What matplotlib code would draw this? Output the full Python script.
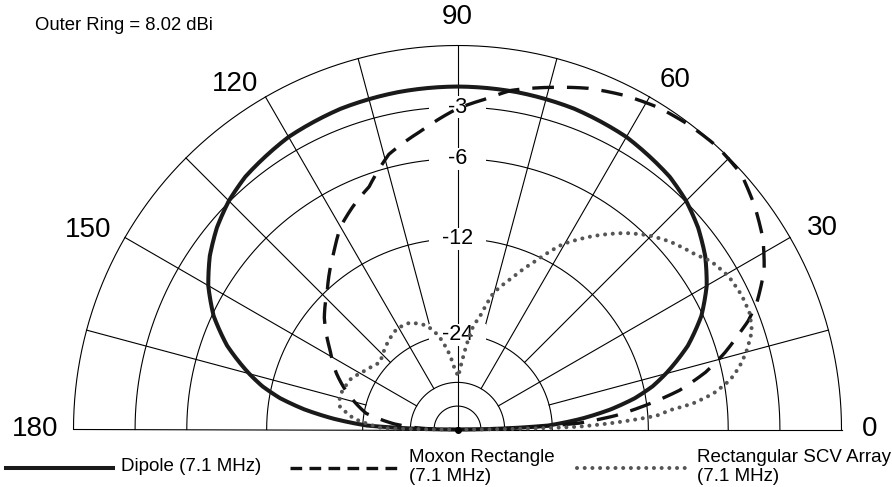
import numpy as np
import matplotlib.pyplot as plt
from matplotlib import transforms
from matplotlib.lines import Line2D
from matplotlib.patches import Rectangle

plt.rcParams['font.family'] = ['Liberation Sans', 'DejaVu Sans']

OUTER_DBI = 8.02

# elevation angle (deg) and gain relative to the outer ring (dB)
dipole_ang = [0, 2.5, 5, 7.5, 10, 12.5, 15, 20, 25, 30, 35, 40, 45, 50, 60, 70, 80, 90,
              100, 110, 120, 130, 135, 140, 145, 150, 155, 160, 165, 167.5, 170, 172.5,
              175, 177.5, 180]
dipole_db = [-99, -24.8, -19.3, -15.6, -13.0, -11.2, -9.9, -7.7, -6.1, -4.95, -4.1, -3.45,
             -2.95, -2.6, -2.2, -2.02, -1.96, -1.94, -1.96, -2.02, -2.2, -2.6, -2.95, -3.45,
             -4.1, -4.95, -6.1, -7.7, -9.9, -11.2, -13.0, -15.6, -19.3, -24.8, -99]

moxon_ang = [0, 3, 5, 7.5, 10, 13, 16, 18.5, 20.5, 23, 27.5, 32, 37, 42, 47.5, 53, 58, 63.5,
             69, 74, 81, 85, 90, 97, 104, 110, 115, 120, 125, 133, 140, 148, 155, 160, 165,
             170, 175, 178, 180]
moxon_db = [-99, -19.7, -15.2, -11.9, -9.15, -7.05, -5.55, -4.5, -3.65, -2.85, -1.8, -1.1,
            -0.55, -0.1, 0.0, -0.07, -0.2, -0.48, -0.85, -1.3, -1.92, -2.5, -3.08, -4.2,
            -5.2, -6.8, -7.6, -8.5, -9.9, -12.0, -13.6, -16.1, -18.1, -19.9, -22.0, -24.4,
            -31.0, -40.0, -99]

scv_ang = [0, 1.3, 2.3, 3.45, 4, 5.2, 6.3, 8, 10.3, 12.5, 15, 18.5, 21.7, 25.3, 29.5, 33.6,
           36.3, 41.5, 45.5, 49.5, 55, 60.4, 65, 70, 75.3, 78.7, 81.4, 85.5, 89, 92.4, 96.6,
           101.5, 106.5, 114, 121, 128, 139, 147, 155, 164, 169, 174, 177, 179, 180]
scv_db = [-99, -19.9, -15.9, -12.5, -11.2, -10.1, -8.3, -6.8, -5.6, -4.9, -4.3, -3.65, -3.43,
          -3.44, -3.6, -4.0, -4.5, -5.2, -5.9, -6.8, -8.35, -10.1, -12.4, -14.8, -17.2, -20.6,
          -22.4, -28.5, -34.0, -32.0, -27.4, -23.8, -21.7, -20.4, -20.3, -21.1, -22.7, -21.6,
          -20.2, -19.6, -20.0, -22.4, -25.6, -28.0, -99]

ring_db = [0, -3, -6, -12, -24, -36, -48]
ring_labels = ['-3', '-6', '-12', '-24']
angle_ticks = [0, 30, 60, 90, 120, 150, 180]
legend_names = ['Dipole (7.1 MHz)', 'Moxon Rectangle\n(7.1 MHz)', 'Rectangular SCV Array\n(7.1 MHz)']


def arrl(db):
    # ARRL log-periodic scale: 0.89 of the radius per 2 dB
    return 0.89 ** (-np.asarray(db, dtype=float) / 2)


W, H = 892, 487
fig = plt.figure(figsize=(W / 100, H / 100), dpi=100)
R = 384
cx, cy = 457.5, 429.5
# half-disc wedge sits in the middle half of a square polar box
ax = fig.add_axes([(cx - R) / W, (H - cy - R / 2) / H, 2 * R / W, 2 * R / H],
                  projection='polar')
ax.set_thetamin(0)
ax.set_thetamax(180)
ax.set_ylim(0, 1)
ax.axis('off')

grid_kw = dict(color='black', lw=0.8, clip_on=False, zorder=1)
half_gap = 28.5 / R
full = np.linspace(0, np.pi, 721)
for db in ring_db:
    r = arrl(db)
    if str(db) in ring_labels:
        d = np.arcsin(half_gap / r)
        t1 = np.linspace(0, np.pi / 2 - d, 361)
        t2 = np.linspace(np.pi / 2 + d, np.pi, 361)
        ax.plot(t1, np.full_like(t1, r), **grid_kw)
        ax.plot(t2, np.full_like(t2, r), **grid_kw)
    else:
        ax.plot(full, np.full_like(full, r), **grid_kw)

# spokes
for a in [0, 90, 180]:
    ax.plot([np.radians(a)] * 2, [0, 1], **grid_kw)
for a in [30, 60, 120, 150]:
    ax.plot([np.radians(a)] * 2, [arrl(-36), 1], **grid_kw)
for a in [15, 45, 75, 105, 135, 165]:
    ax.plot([np.radians(a)] * 2, [arrl(-24), 1], **grid_kw)
ax.plot([0], [0], 'o', color='black', ms=4, clip_on=False, zorder=5)

# ring labels with white boxes
for lab in ring_labels:
    r = arrl(float(lab))
    trans = fig.dpi_scale_trans + transforms.ScaledTranslation(np.pi / 2, r, ax.transData)
    box = Rectangle((-0.285, -0.11), 0.57, 0.22, transform=trans, facecolor='white',
                    edgecolor='none', zorder=2, clip_on=False)
    ax.add_artist(box)
    ax.text(np.pi / 2, r, lab, ha='center', va='center', fontsize=15.5, zorder=3)

# angle labels
for a in angle_ticks:
    th = np.radians(a)
    if a < 90:
        ax.text(th, 1.052, str(a), ha='left', va='center', fontsize=20)
    elif a > 90:
        ax.text(th, 1.04, str(a), ha='right', va='center', fontsize=20)
    else:
        ax.text(th, 1.04, str(a), ha='center', va='bottom', fontsize=20)

# patterns (segments follow the polar grid between the read points)
lines = []
lines += ax.plot(np.radians(dipole_ang), arrl(dipole_db), color='#1a1a1a', lw=2.9,
                 clip_on=False, zorder=4)
lines += ax.plot(np.radians(moxon_ang), arrl(moxon_db), color='#111111', lw=2.4,
                 linestyle=(0, (6.5, 3.9)), dash_capstyle='butt', clip_on=False, zorder=4)
lines += ax.plot(np.radians(scv_ang), arrl(scv_db), color='#555555', lw=2.9,
                 linestyle=(0, (0.01, 1.9)), dash_capstyle='round', clip_on=False, zorder=4)
for ln in lines:
    ln.get_path()._interpolation_steps = 24

fig.text(35 / W, 1 - 25 / H, 'Outer Ring = %.2f dBi' % OUTER_DBI, ha='left', va='center',
         fontsize=13.3)

# legend along the bottom
ly = 1 - 468 / H
fig.add_artist(Line2D([6 / W, 113 / W], [ly, ly], color='#1a1a1a', lw=2.9))
fig.add_artist(Line2D([290 / W, 399 / W], [ly, ly], color='#111111', lw=2.4,
                      linestyle=(0, (3.5, 2.2)), dash_capstyle='butt'))
fig.add_artist(Line2D([577 / W, 686 / W], [ly, ly], color='#555555', lw=2.9,
                      linestyle=(0, (0.01, 1.9)), dash_capstyle='round'))
fig.text(121 / W, 1 - 466.5 / H, legend_names[0], ha='left', va='center', fontsize=13.5)
fig.text(409 / W, 1 - 467 / H, legend_names[1], ha='left', va='center', fontsize=13.5,
         linespacing=1.1)
fig.text(697 / W, 1 - 467 / H, legend_names[2], ha='left', va='center', fontsize=13.5,
         linespacing=1.1)

fig.savefig('out.png', dpi=100, facecolor='white')
